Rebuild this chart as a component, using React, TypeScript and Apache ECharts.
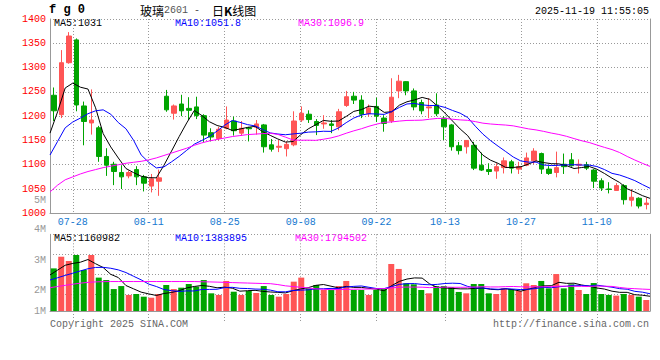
import React, { useEffect, useRef } from 'react';
import * as echarts from 'echarts';

// ---------- data ----------
const dates = [
  '07-23','07-24','07-25','07-28','07-29','07-30','07-31',
  '08-01','08-04','08-05','08-06','08-07','08-08','08-11','08-12','08-13','08-14','08-15','08-18','08-19','08-20','08-21','08-22','08-25','08-26','08-27','08-28','08-29',
  '09-01','09-02','09-03','09-04','09-05','09-08','09-09','09-10','09-11','09-12','09-15','09-16','09-17','09-18','09-19','09-22','09-23','09-24','09-25','09-26','09-29','09-30',
  '10-09','10-10','10-13','10-14','10-15','10-16','10-17','10-20','10-21','10-22','10-23','10-24','10-27','10-28','10-29','10-30','10-31',
  '11-03','11-04','11-05','11-06','11-07','11-10','11-11','11-12','11-13','11-14','11-17','11-18','11-19',
];
const xTickDates = ['07-28', '08-11', '08-25', '09-08', '09-22', '10-13', '10-27', '11-10'];

const opens = [
  1243, 1203, 1310, 1357, 1221, 1186, 1176, 1117, 1101, 1084,
  1077, 1090, 1075, 1056, 1066, 1241, 1206, 1225, 1216, 1219,
  1201, 1166, 1154, 1175, 1190, 1165, 1176, 1177, 1182, 1141,
  1136, 1133, 1141, 1192, 1204, 1189, 1184, 1184, 1178, 1222,
  1241, 1233, 1205, 1220, 1196, 1190, 1252, 1271, 1252, 1228,
  1217, 1223, 1196, 1182, 1139, 1137, 1140, 1099, 1090, 1087,
  1094, 1106, 1091, 1099, 1108, 1123, 1091, 1084, 1101, 1110,
  1099, 1100, 1089, 1067, 1050, 1047, 1057, 1027, 1031, 1018,
];
const closes = [
  1211, 1310, 1365, 1223, 1189, 1192, 1117, 1099, 1086, 1075,
  1084, 1075, 1062, 1071, 1073, 1213, 1221, 1211, 1212, 1201,
  1161, 1157, 1173, 1192, 1170, 1175, 1174, 1184, 1137, 1132,
  1138, 1142, 1190, 1206, 1193, 1181, 1186, 1181, 1209, 1240,
  1233, 1204, 1217, 1200, 1185, 1239, 1272, 1252, 1219, 1211,
  1219, 1205, 1178, 1137, 1129, 1150, 1093, 1089, 1086, 1096,
  1108, 1093, 1096, 1114, 1128, 1091, 1082, 1094, 1096, 1098,
  1101, 1093, 1066, 1052, 1049, 1057, 1028, 1033, 1015, 1021,
];
const highs = [
  1259, 1336, 1373, 1360, 1230, 1255, 1180, 1134, 1106, 1099,
  1088, 1097, 1079, 1081, 1090, 1254, 1224, 1244, 1239, 1240,
  1204, 1175, 1178, 1220, 1199, 1190, 1178, 1192, 1184, 1153,
  1151, 1148, 1210, 1220, 1212, 1194, 1202, 1192, 1215, 1252,
  1250, 1243, 1224, 1238, 1202, 1278, 1285, 1272, 1257, 1234,
  1237, 1247, 1200, 1184, 1147, 1150, 1147, 1125, 1103, 1103,
  1115, 1110, 1106, 1125, 1134, 1125, 1097, 1127, 1123, 1124,
  1111, 1106, 1091, 1072, 1064, 1062, 1060, 1050, 1033, 1032,
];
const lows = [
  1190, 1196, 1308, 1210, 1140, 1162, 1106, 1077, 1058, 1050,
  1072, 1058, 1045, 1043, 1036, 1209, 1193, 1200, 1192, 1194,
  1147, 1148, 1150, 1173, 1160, 1160, 1148, 1162, 1125, 1127,
  1126, 1117, 1138, 1188, 1186, 1161, 1174, 1165, 1171, 1219,
  1225, 1196, 1199, 1188, 1168, 1186, 1237, 1243, 1212, 1204,
  1196, 1200, 1151, 1129, 1121, 1123, 1089, 1087, 1079, 1071,
  1082, 1082, 1081, 1097, 1101, 1081, 1079, 1074, 1081, 1096,
  1082, 1089, 1052, 1046, 1041, 1046, 1018, 1014, 1010, 1008,
];
const volumes = [
  3690000, 4700000, 4330000, 4850000, 3550000, 4850000, 2890000, 2680000, 1900000, 2160000,
  1390000, 1470000, 1240000, 1150000, 1470000, 2250000, 1900000, 2020000, 2340000, 2110000,
  2680000, 1530000, 1390000, 2600000, 1670000, 1390000, 1730000, 1560000, 2160000, 1390000,
  1240000, 1470000, 2540000, 2890000, 1960000, 2250000, 1820000, 1820000, 2160000, 2600000,
  1820000, 1820000, 1390000, 1820000, 1900000, 4070000, 3640000, 2400000, 2310000, 1820000,
  1530000, 2160000, 2160000, 2080000, 1650000, 1530000, 2340000, 2340000, 1530000, 1470000,
  1960000, 1900000, 1730000, 2400000, 2250000, 2600000, 1960000, 3200000, 1960000, 2310000,
  1820000, 1470000, 2420000, 1470000, 1390000, 1330000, 1470000, 1390000, 1240000, 950000,
];

// moving-average values before enough in-window history exists
const ma5Head = [1165, 1209, 1258, 1268];
const ma10Head = [1120, 1148, 1176, 1188, 1196, 1205, 1211, 1213, 1204];
const ma30Head = [
  1044, 1058, 1069, 1075, 1081, 1086, 1090, 1094, 1097, 1100,
  1103, 1105, 1107, 1110, 1114, 1119, 1124, 1129, 1134, 1140,
  1145, 1149, 1152, 1155, 1158, 1160, 1162, 1163, 1164,
];
const volMa5Head = [3120000, 3540000, 3960000, 4120000];
const volMa10Head = [2680000, 2880000, 3080000, 3270000, 3470000, 3660000, 3770000, 3780000, 3700000];
const volMa30Head = [
  2020000, 2120000, 2220000, 2320000, 2410000, 2480000, 2520000, 2540000, 2550000, 2550000,
  2550000, 2550000, 2550000, 2550000, 2550000, 2550000, 2550000, 2550000, 2550000, 2550000,
  2530000, 2520000, 2500000, 2480000, 2460000, 2440000, 2420000, 2400000, 2380000,
];

const priceLegend = ['MA5:1031', 'MA10:1051.8', 'MA30:1096.9'];
const volLegend = ['MA5:1160982', 'MA10:1383895', 'MA30:1794502'];
const volTickLabels = ['4M', '3M', '2M', '1M'];
const overlayLabel = '5M';
const titleName = '玻璃';
const titleCode = '2601';
const symbolText = 'f g 0';
const stampText = '2025-11-19 11:55:05';
const copyrightText = 'Copyright 2025 SINA.COM';
const urlText = 'http://finance.sina.com.cn';

// ---------- helpers ----------
function movingAverage(values: number[], n: number, head: number[]) {
  return values.map((_, i) => {
    if (i < n - 1) return head[i];
    let s = 0;
    for (let k = i - n + 1; k <= i; k++) s += values[k];
    return Math.round((s / n) * 100) / 100;
  });
}

const MONO = '"Liberation Mono", "DejaVu Sans Mono", monospace';
const CJK = '"Noto Sans CJK SC", sans-serif';
const UP = '#FF5555';
const DOWN = '#00A400';
const GRID_C = '#999999';
const MA_COLORS = ['#000000', '#0000FF', '#FF00FF'];

export default function App() {
  const ref = useRef<HTMLDivElement>(null);

  useEffect(() => {
    document.body.style.margin = '0';
    const chart = echarts.init(ref.current!, null, { renderer: 'svg' });

    const isUp = closes.map((c, i) => c >= opens[i]);
    const isTick = (_i: number, v: string) => xTickDates.indexOf(v) >= 0;
    const dotted = { color: GRID_C, type: [1, 2] as any, width: 1 };

    const ma5 = movingAverage(closes, 5, ma5Head);
    const ma10 = movingAverage(closes, 10, ma10Head);
    const ma30 = movingAverage(closes, 30, ma30Head);
    const vma5 = movingAverage(volumes, 5, volMa5Head);
    const vma10 = movingAverage(volumes, 10, volMa10Head);
    const vma30 = movingAverage(volumes, 30, volMa30Head);

    const txt = (text: string, x: number, y: number, fill: string, align = 'left', font = `10px ${MONO}`) => ({
      type: 'text',
      x,
      y,
      silent: true,
      style: { text, fill, font, textAlign: align, textVerticalAlign: 'middle' },
    });

    const lineSeries = (data: number[], color: string, xi: number, yi: number) => ({
      type: 'line',
      xAxisIndex: xi,
      yAxisIndex: yi,
      data,
      symbol: 'none',
      silent: true,
      lineStyle: { color, width: 1 },
      itemStyle: { color },
    });

    const option: any = {
      animation: false,
      backgroundColor: '#ffffff',
      grid: [
        { left: 50, width: 600, top: 19, height: 194.3 },
        { left: 50, width: 600, top: 234.3, height: 76.7 },
      ],
      xAxis: [
        { type: 'category', gridIndex: 0, data: dates, boundaryGap: true, position: 'top', show: false },
        {
          type: 'category', gridIndex: 0, data: dates, boundaryGap: false, position: 'bottom',
          axisLine: { show: true, onZero: false, lineStyle: { color: GRID_C } },
          axisTick: { show: false },
          axisLabel: { interval: isTick, color: '#1578D0', fontFamily: MONO, fontSize: 10, margin: 4 },
          splitLine: { show: true, interval: isTick, lineStyle: dotted },
        },
        { type: 'category', gridIndex: 1, data: dates, boundaryGap: true, position: 'top', show: false },
        {
          type: 'category', gridIndex: 1, data: dates, boundaryGap: false, position: 'bottom',
          axisLine: { show: true, onZero: false, lineStyle: { color: GRID_C } },
          axisTick: { show: true, interval: isTick, length: 10, lineStyle: dotted },
          axisLabel: { show: false },
          splitLine: { show: true, interval: isTick, lineStyle: dotted },
        },
      ],
      yAxis: [
        {
          type: 'value', gridIndex: 0, min: 1000, max: 1400, interval: 50, position: 'left',
          axisLine: { show: true, onZero: false, lineStyle: { color: GRID_C } },
          axisTick: { show: false },
          axisLabel: {
            color: '#FF0000', fontFamily: MONO, fontSize: 10, margin: 4,
            formatter: (v: number) => String(v),
          },
          splitLine: { show: true, lineStyle: dotted },
        },
        {
          type: 'value', gridIndex: 0, min: 1000, max: 1400, position: 'right',
          axisLine: { show: true, onZero: false, lineStyle: { color: GRID_C } },
          axisTick: { show: false }, axisLabel: { show: false }, splitLine: { show: false },
        },
        {
          type: 'value', gridIndex: 1, min: 0, max: 6640000, position: 'left',
          axisLine: { show: true, onZero: false, lineStyle: { color: GRID_C } },
          axisTick: { show: false }, axisLabel: { show: false }, splitLine: { show: false },
        },
        {
          type: 'value', gridIndex: 1, min: 0, max: 76.7, interval: 20, inverse: true, position: 'right',
          axisLine: { show: true, onZero: false, lineStyle: { color: GRID_C } },
          axisTick: { show: false }, axisLabel: { show: false },
          splitLine: { show: true, lineStyle: dotted },
        },
      ],
      series: [
        {
          type: 'candlestick',
          xAxisIndex: 0,
          yAxisIndex: 0,
          barWidth: 5,
          silent: true,
          data: opens.map((o, i) => [o, closes[i], lows[i], highs[i]]),
          itemStyle: { color: UP, color0: DOWN, borderColor: UP, borderColor0: DOWN, borderWidth: 1 },
        },
        lineSeries(ma5, MA_COLORS[0], 1, 0),
        lineSeries(ma10, MA_COLORS[1], 1, 0),
        lineSeries(ma30, MA_COLORS[2], 1, 0),
        {
          type: 'bar',
          xAxisIndex: 2,
          yAxisIndex: 2,
          barWidth: 6,
          silent: true,
          data: volumes.map((v, i) => ({ value: v, itemStyle: { color: isUp[i] ? UP : DOWN } })),
        },
        lineSeries(vma5, MA_COLORS[0], 3, 2),
        lineSeries(vma10, MA_COLORS[1], 3, 2),
        lineSeries(vma30, MA_COLORS[2], 3, 2),
      ],
      graphic: [
        txt(symbolText, 49, 10, '#000', 'left', `bold 12px ${MONO}`),
        {
          type: 'text',
          x: 140,
          y: 10,
          silent: true,
          style: {
            text: `{cn|${titleName}}{num|${titleCode} -  }{cn|日}{kb|K}{cn|线图}`,
            textVerticalAlign: 'middle',
            rich: {
              cn: { fill: '#000', fontSize: 12, fontFamily: CJK },
              kb: { fill: '#000', fontSize: 12, fontFamily: CJK, fontWeight: 'bold' },
              num: { fill: '#555', fontSize: 10, fontFamily: MONO },
            },
          },
        },
        txt(stampText, 649, 11, '#000', 'right'),
        txt(priceLegend[0], 54, 23.5, MA_COLORS[0]),
        txt(priceLegend[1], 175, 23.5, MA_COLORS[1]),
        txt(priceLegend[2], 298, 23.5, MA_COLORS[2]),
        txt(volLegend[0], 54, 238.5, MA_COLORS[0]),
        txt(volLegend[1], 175, 238.5, MA_COLORS[1]),
        txt(volLegend[2], 295, 238.5, MA_COLORS[2]),
        txt(overlayLabel, 46, 200, '#999', 'right'),
        txt(volTickLabels[0], 46, 229.5, '#999', 'right'),
        txt(volTickLabels[1], 46, 260, '#999', 'right'),
        txt(volTickLabels[2], 46, 290, '#999', 'right'),
        txt(volTickLabels[3], 46, 311, '#999', 'right'),
        txt(copyrightText, 50, 324, '#666'),
        txt(urlText, 649, 324, '#666', 'right'),
      ],
    };

    chart.setOption(option);
    return () => chart.dispose();
  }, []);

  return <div ref={ref} style={{ width: 660, height: 360 }} />;
}
